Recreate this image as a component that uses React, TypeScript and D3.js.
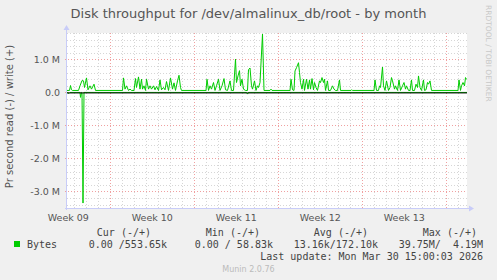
import React from "react";
import * as d3 from "d3";

// ---- data (hours from graph start, value in M bytes/s) ----
const weekLabels = ["Week 09", "Week 10", "Week 11", "Week 12", "Week 13"];
const yTickValues = [1, 0, -1, -2, -3];
const yTickLabels = ["1.0 M", "0.0", "-1.0 M", "-2.0 M", "-3.0 M"];

const writeSeries: [number, number][] = [
  [0, 0.06], [5, 0.06], [7, 0.21], [9, 0.08], [11, 0.06], [23, 0.06], [26, 0.2], [30, 0.36],
  [33, 0.35], [35, 0.15], [39, 0.44], [42, 0.08], [46, 0.2], [49, 0.1], [54, 0.25], [57, 0.06],
  [111, 0.06], [113, 0.44], [116, 0.1], [119, 0.2], [123, 0.06], [126, 0.1], [129, 0.06], [134, 0.06],
  [137, 0.42], [139, 0.15], [143, 0.47], [146, 0.1], [149, 0.4], [151, 0.1], [154, 0.2], [157, 0.06],
  [159, 0.4], [163, 0.1], [166, 0.2], [169, 0.1], [173, 0.2], [176, 0.08], [179, 0.18], [183, 0.06],
  [186, 0.38], [189, 0.08], [193, 0.15], [196, 0.08], [199, 0.33], [203, 0.06], [207, 0.44], [211, 0.1],
  [214, 0.29], [217, 0.06], [221, 0.35], [224, 0.52], [227, 0.15], [229, 0.06],
  [278, 0.06], [280, 0.4], [283, 0.06], [286, 0.2], [289, 0.1], [293, 0.3], [296, 0.06], [299, 0.2],
  [303, 0.4], [306, 0.06], [310, 0.2], [314, 0.42], [317, 0.08], [321, 0.06], [326, 0.35], [329, 0.06],
  [333, 0.06], [337, 1.01], [339, 0.3], [342, 0.5], [345, 0.66], [347, 0.2], [350, 0.4], [353, 0.1],
  [357, 0.06], [361, 0.06], [363, 0.69], [366, 0.74], [369, 0.2], [371, 0.1], [375, 0.35], [378, 0.06],
  [381, 0.2], [383, 0.15], [386, 0.3], [391, 1.77], [394, 0.06], [406, 0.06], [408, 0.1], [410, 0.06],
  [446, 0.06], [448, 0.4], [451, 0.08], [454, 0.06], [456, 0.65], [459, 0.75], [463, 0.9], [465, 0.6],
  [467, 0.3], [470, 0.1], [473, 0.4], [475, 0.06], [479, 0.4], [482, 0.1], [485, 0.38], [487, 0.1],
  [490, 0.42], [493, 0.08], [495, 0.3], [498, 0.15], [501, 0.06], [505, 0.35], [507, 0.3], [510, 0.45],
  [513, 0.3], [515, 0.4], [517, 0.06], [521, 0.35], [523, 0.06], [527, 0.06], [531, 0.2], [534, 0.1],
  [537, 0.06], [541, 0.06], [545, 0.38], [547, 0.06], [568, 0.06], [569, 0.08], [571, 0.06],
  [614, 0.06], [616, 0.38], [619, 0.06], [623, 0.06], [625, 0.2], [627, 0.15], [631, 0.77], [633, 0.2],
  [636, 0.06], [639, 0.35], [643, 0.06], [646, 0.15], [649, 0.45], [651, 0.35], [655, 0.1], [657, 0.2],
  [661, 0.06], [664, 0.38], [667, 0.06], [671, 0.2], [674, 0.3], [677, 0.1], [679, 0.2], [683, 0.06],
  [686, 0.06], [689, 0.38], [691, 0.06], [695, 0.06], [698, 0.25], [701, 0.15], [703, 0.5], [706, 0.15],
  [709, 0.06], [713, 0.38], [715, 0.06], [718, 0.08], [721, 0.3], [723, 0.25], [726, 0.35], [729, 0.06],
  [782, 0.06], [784, 0.38], [787, 0.06], [789, 0.2], [792, 0.3], [795, 0.2], [797, 0.45], [799, 0.4],
];

const readSeries: [number, number][] = [
  [0, 0], [4, 0.03], [6, 0], [26, 0], [27, 0.15], [29, 0], [30, 0], [32, 3.35], [34, 0],
  [359, 0], [361, 0.05], [363, 0], [800, 0],
];

const legendHeaders = ["Cur (-/+)", "Min (-/+)", "Avg (-/+)", "Max (-/+)"];
const legendValues = ["0.00 /553.65k", "0.00 / 58.83k", "13.16k/172.10k", "39.75M/  4.19M"];

export default function App() {
  const W = 497, H = 280;
  const left = 67, right = 467, top = 33, bottom = 208;
  const x = d3.scaleLinear().domain([0, 800]).range([left, right]);
  const y = d3.scaleLinear().domain([-3.5, 1.8]).range([bottom, top]);
  const firstDay = 14.6; // hour offset of first midnight
  const days: { h: number; week: boolean }[] = [];
  for (let k = 0; firstDay + 24 * k < 800; k++) {
    days.push({ h: firstDay + 24 * k, week: (k - 3) % 7 === 0 });
  }
  const minorY = d3.range(-3.4, 1.81, 0.2).filter((v) => Math.abs(v - Math.round(v)) > 0.01);
  const line = d3.line<[number, number]>().x((d) => x(d[0])).y((d) => y(d[1]));
  const lineRead = d3.line<[number, number]>().x((d) => x(d[0])).y((d) => y(-d[1]));
  const px = (v: number) => Math.round(v) + 0.5;
  const sans = "DejaVu Sans, sans-serif";
  const mono = "DejaVu Sans Mono, monospace";
  const legendHeaderX = [151, 260, 368, 477];
  const legendValueX = [167, 273, 378, 483];
  return (
    <svg width={W} height={H} style={{ position: "absolute", left: 0, top: 0 }}>
      <rect width={W} height={H} fill="#f0f0f0" />
      <text x={248.5} y={18} textAnchor="middle" fontFamily={sans} fontSize={13} fill="#555">
        Disk throughput for /dev/almalinux_db/root - by month
      </text>
      <text transform="translate(486,5) rotate(90)" fontFamily={sans} fontSize={7.5} fill="#c8c8c8">
        RRDTOOL / TOBI OETIKER
      </text>
      <rect x={left} y={top} width={right - left} height={bottom - top} fill="#fff" />
      {/* minor horizontal grid */}
      {minorY.map((v, i) => (
        <line key={"my" + i} x1={left} x2={right} y1={px(y(v))} y2={px(y(v))} stroke="#d6d6d6" strokeDasharray="1,2" />
      ))}
      {/* vertical grid */}
      {days.map((d, i) => (
        <line key={"vx" + i} x1={px(x(d.h))} x2={px(x(d.h))} y1={top} y2={bottom + 2}
          stroke={d.week ? "#f0a0a0" : "#d6d6d6"} strokeDasharray="1,2" />
      ))}
      {/* major horizontal grid */}
      {yTickValues.map((v, i) => (
        <line key={"My" + i} x1={left - 2} x2={right} y1={px(y(v))} y2={px(y(v))} stroke="#f0a0a0" strokeDasharray="1,2" />
      ))}
      {yTickValues.map((v, i) => (
        <text key={"yl" + i} x={60} y={y(v) + 3.5} textAnchor="end" fontFamily={sans} fontSize={9.5} fill="#555">
          {yTickLabels[i]}
        </text>
      ))}
      {weekLabels.map((w, i) => (
        <text key={"wl" + i} x={x(2.6 + 168 * i)} y={221} textAnchor="middle" fontFamily={sans} fontSize={9.5} fill="#555">
          {w}
        </text>
      ))}
      <text transform={`translate(13,${(top + bottom) / 2 - 4}) rotate(-90)`} textAnchor="middle" fontFamily={sans} fontSize={10} fill="#555">
        Pr second read (-) / write (+)
      </text>
      {/* axes */}
      <line x1={left - 0.5} x2={left - 0.5} y1={bottom + 2} y2={top - 4} stroke="#c8ccf8" />
      <path d={`M${left - 3.5},${top - 3} L${left - 0.5},${top - 8} L${left + 2.5},${top - 3} Z`} fill="#c8ccf8" />
      <line x1={left - 2} x2={right + 3} y1={bottom + 0.5} y2={bottom + 0.5} stroke="#c8ccf8" />
      <path d={`M${right + 2},${bottom - 2.5} L${right + 7},${bottom + 0.5} L${right + 2},${bottom + 3.5} Z`} fill="#c8ccf8" />
      {/* data */}
      <path d={lineRead(readSeries) || ""} fill="none" stroke="#00cc00" strokeWidth={1} />
      <path d={line(writeSeries) || ""} fill="none" stroke="#00cc00" strokeWidth={1} />
      <line x1={left} x2={right} y1={y(0) + 0.5} y2={y(0) + 0.5} stroke="#000" strokeWidth={1} />
      {/* legend */}
      {legendHeaders.map((t, i) => (
        <text key={"lh" + i} x={legendHeaderX[i]} y={236} textAnchor="end" fontFamily={mono} fontSize={10} fill="#444" style={{ whiteSpace: "pre" }}>
          {t}
        </text>
      ))}
      <rect x={14} y={241} width={6} height={6} fill="#00cc00" />
      <text x={27} y={248} fontFamily={mono} fontSize={10} fill="#444">Bytes</text>
      {legendValues.map((t, i) => (
        <text key={"lv" + i} x={legendValueX[i]} y={248} textAnchor="end" fontFamily={mono} fontSize={10} fill="#444" style={{ whiteSpace: "pre" }}>
          {t}
        </text>
      ))}
      <text x={483} y={260} textAnchor="end" fontFamily={mono} fontSize={10} fill="#444">
        Last update: Mon Mar 30 15:00:03 2026
      </text>
      <text x={248.5} y={271.5} textAnchor="middle" fontFamily={sans} fontSize={8} fill="#bbb">
        Munin 2.0.76
      </text>
    </svg>
  );
}
